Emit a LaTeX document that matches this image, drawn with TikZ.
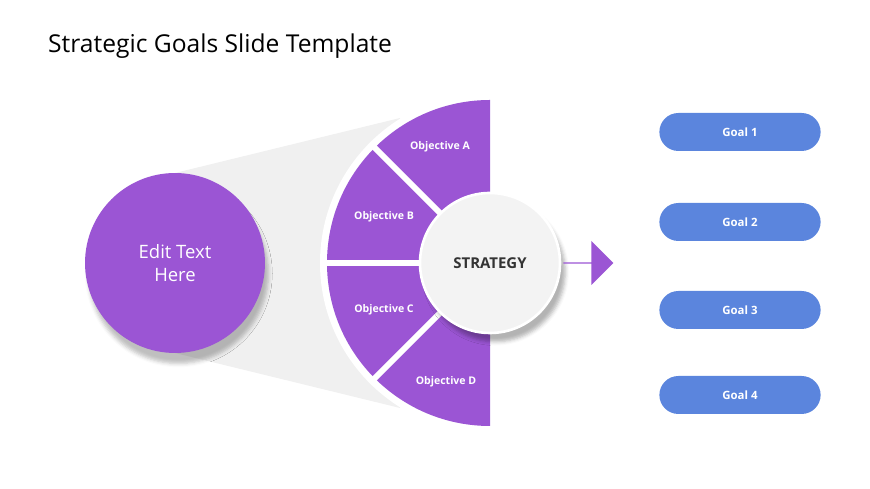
\documentclass[tikz,border=0pt]{standalone}
\usepackage{fontspec}
\setmainfont{Open Sans}
\usetikzlibrary{shapes.arrows,shapes.misc,shadows.blur}
\definecolor{violet}{HTML}{9B55D4}
\definecolor{goalblue}{HTML}{5B85DD}
\definecolor{fanpale}{HTML}{F0F0F0}
\definecolor{hubgray}{HTML}{F3F3F3}
\tikzstyle{goal}=[rounded rectangle, fill=goalblue, text=white, minimum width=3.46cm, minimum height=0.76cm, font=\fontsize{6.5}{8}\selectfont\bfseries]
\tikzstyle{objlabel}=[text=white, font=\fontsize{6}{7}\selectfont\bfseries]

\begin{document}
\begin{tikzpicture}[x=0.02cm,y=0.02cm]
\useasboundingbox (0,0) rectangle (870,489);

\node (title) [anchor=west, font=\fontsize{14}{16}\selectfont] at (42,443) {Strategic Goals Slide Template};

% fan from the circle to the half disc
\fill[fanpale] (175,316) -- (400,371) -- (400,81) -- (175,136) -- cycle;
\fill[white] (490,226) ++(90:170) arc[start angle=90,end angle=270,radius=170] -- cycle;

% half disc
\fill[violet] (490,226) ++(90:163) arc[start angle=90,end angle=270,radius=163] -- cycle;
\draw[white, line width=3.4pt] (490,226) -- ++(135:170);
\draw[white, line width=3.4pt] (490,226) -- ++(180:170);
\draw[white, line width=3.4pt] (490,226) -- ++(225:170);

\node (objA) [objlabel] at (440,342) {Objective A};
\node (objB) [objlabel] at (384,272) {Objective B};
\node (objC) [objlabel] at (384,179) {Objective C};
\node (objD) [objlabel] at (446,107) {Objective D};

% edit circle
\node (edit) [circle, fill=violet, minimum size=3.6cm, text=white, align=center,
  font=\fontsize{10.5}{13}\selectfont, blur shadow={shadow xshift=2pt, shadow yshift=-6pt, shadow opacity=25}]
  at (175,226) {Edit Text\\Here};

% strategy hub
\node (hub) [circle, fill=hubgray, draw=white, line width=1.5pt, minimum size=2.8cm,
  font=\fontsize{8.5}{10}\selectfont\bfseries, text=black!80,
  blur shadow={shadow xshift=3pt, shadow yshift=-5pt, shadow opacity=30}]
  at (490,226) {STRATEGY};

\node (go) [single arrow, fill=violet, minimum width=0.88cm, single arrow head extend=0.22cm,
  minimum height=1cm, inner sep=0pt] at (588,226) {};

\node (g1) [goal] at (740,357) {Goal 1};
\node (g2) [goal] at (740,267) {Goal 2};
\node (g3) [goal] at (740,179) {Goal 3};
\node (g4) [goal] at (740,94) {Goal 4};
\end{tikzpicture}
\end{document}
